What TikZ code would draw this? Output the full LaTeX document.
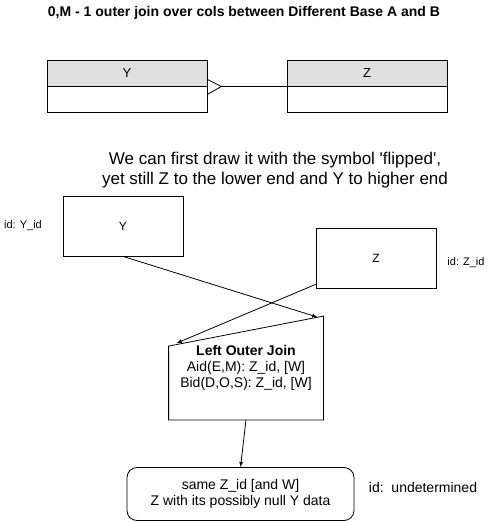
\documentclass[tikz,border=0pt]{standalone}
\usepackage{fontspec}
\setmainfont{Liberation Sans}
\usetikzlibrary{positioning,calc,arrows}
\definecolor{hdrgray}{HTML}{E0E0E0}
\newcommand{\straightq}{\XeTeXglyph\the\XeTeXcharglyph"27\relax}

\begin{document}
\begin{tikzpicture}[x=1pt,y=-1pt,line width=0.8pt,
hdr/.style={draw, fill=hdrgray, minimum width=160pt, minimum height=26pt, inner sep=0pt, font=\fontsize{13}{15}\selectfont},
tbl/.style={draw, minimum width=160pt, minimum height=26pt, inner sep=0pt},
ent/.style={draw, minimum width=120pt, minimum height=60pt, inner sep=0pt, font=\fontsize{12}{14}\selectfont},
lbl/.style={font=\fontsize{11}{13}\selectfont},
res/.style={draw, rounded corners=10pt, minimum width=227pt, minimum height=53pt, align=center, font=\fontsize{14}{16.5}\selectfont}
]
\useasboundingbox (0,0) rectangle (498,522);
\node[font=\bfseries\fontsize{14}{16}\selectfont] (title) at (244,13) {0,M - 1 outer join over cols between Different Base A and B};

% the two tables
\node[hdr] (yhead) at (127,73) {Y};
\node[tbl, below=0pt of yhead] (ybody) {};
\node[hdr] (zhead) at (367,73) {Z};
\node[tbl, below=0pt of zhead] (zbody) {};
\coordinate (crow) at ($(yhead.south east)+(14,0)$);
\draw (crow) -- (zhead.south west);
\draw ($(yhead.south east)+(0,-7)$) -- (crow) -- ($(yhead.south east)+(0,8)$);

\node[align=center, font=\fontsize{17}{20}\selectfont] (note) at (275,170) {We can first draw it with the symbol \straightq flipped\straightq,\\yet still Z to the lower end and Y to higher end};

% entities
\node[ent] (yent) at (123,226) {Y};
\node[lbl] (yid) at (23,226) {id: Y\_id};
\node[ent] (zent) at (376,258) {Z};
\node[lbl] (zid) at (466,263) {id: Z\_id};

% join
\node[minimum width=154pt, minimum height=103pt, inner sep=0pt, align=center, font=\fontsize{14}{16}\selectfont] (join) at (246,368) {\textbf{Left Outer Join}\\Aid(E,M): Z\_id, [W]\\Bid(D,O,S): Z\_id, [W]};
\coordinate (jnw) at ($(join.north west)+(0,30)$);
\draw (join.south west) -- (join.south east) -- (join.north east) -- (jnw) -- cycle;

\draw[-latex] (yent.south) -- ($(join.north east)+(-6,1)$);
\draw[-latex] ($(zent.south west)+(0,-4)$) -- ($(jnw)+(8,-3)$);

% result
\node[res] (result) at (240.5,494) {same Z\_id [and W]\\Z with its possibly null Y data};
\node[lbl, font=\fontsize{14}{16}\selectfont] (rid) at (423,487) {id:\ \ undetermined};
\draw[-latex] (join.south) -- (result.north);
\end{tikzpicture}
\end{document}
